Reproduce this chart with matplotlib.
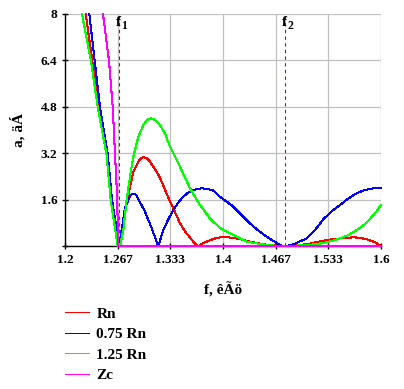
import matplotlib
matplotlib.use("Agg")
import matplotlib.pyplot as plt

# ---- data ----
red_f = [1.2262, 1.2346, 1.2427, 1.2532, 1.2589, 1.2680, 1.2738, 1.2780, 1.2823, 1.2865, 1.2928,
         1.2960, 1.2991, 1.3035, 1.3076, 1.3140, 1.3203, 1.3260, 1.3320, 1.3390, 1.3456, 1.3520,
         1.3582, 1.3640, 1.3687, 1.3760, 1.3835, 1.3920, 1.4000, 1.4100, 1.4215, 1.4342, 1.4470,
         1.4595, 1.4759, 1.4900, 1.5059, 1.5165, 1.5270, 1.5375, 1.5481, 1.5649, 1.5740, 1.5819,
         1.5924, 1.6000]
red_a = [8.0, 6.38, 4.79, 3.17, 1.59, 0.0, 0.78, 1.47, 2.04, 2.56, 2.91,
         3.02, 3.06, 3.03, 2.91, 2.65, 2.35, 1.98, 1.59, 1.18, 0.78, 0.50,
         0.29, 0.10, 0.0, 0.11, 0.20, 0.28, 0.31, 0.29, 0.24, 0.15, 0.08,
         0.03, 0.0, 0.02, 0.06, 0.12, 0.18, 0.23, 0.26, 0.30, 0.28, 0.23,
         0.13, 0.0]

blue_f = [1.2308, 1.2376, 1.2443, 1.2541, 1.2595, 1.2687, 1.2759, 1.2823, 1.2850, 1.2880, 1.2910,
          1.2940, 1.3003, 1.3089, 1.3181, 1.3244, 1.3308, 1.3371, 1.3434, 1.3497, 1.3560, 1.3624,
          1.3680, 1.3730, 1.3800, 1.3877, 1.3962, 1.4130, 1.4236, 1.4342, 1.4448, 1.4553, 1.4722,
          1.4766, 1.4848, 1.4911, 1.5059, 1.5165, 1.5270, 1.5376, 1.5481, 1.5587, 1.5692, 1.5797,
          1.5903, 1.6000]
blue_a = [8.0, 6.38, 4.79, 3.17, 1.59, 0.0, 1.31, 1.72, 1.79, 1.80, 1.72,
          1.55, 1.24, 0.67, 0.0, 0.55, 0.92, 1.24, 1.50, 1.70, 1.84, 1.93,
          1.97, 1.99, 1.97, 1.91, 1.70, 1.36, 1.07, 0.78, 0.53, 0.32, 0.03,
          0.0, 0.02, 0.08, 0.26, 0.55, 0.92, 1.20, 1.41, 1.64, 1.82, 1.93,
          1.99, 2.0]

green_f = [1.2215, 1.2329, 1.2414, 1.2525, 1.2578, 1.2667, 1.2700, 1.2738, 1.2780, 1.2823, 1.2865,
           1.2928, 1.2991, 1.3040, 1.3085, 1.3140, 1.3203, 1.3270, 1.3329, 1.3456, 1.3582, 1.3709,
           1.3835, 1.3962, 1.4089, 1.4215, 1.4300, 1.4468, 1.4620, 1.4760, 1.4900, 1.5100, 1.5266,
           1.5375, 1.5481, 1.5590, 1.5692, 1.5780, 1.5850, 1.5930, 1.6000]
green_a = [8.0, 6.38, 4.79, 3.17, 1.59, 0.0, 0.03, 0.55, 1.59, 2.39, 3.08,
           3.77, 4.17, 4.35, 4.40, 4.35, 4.17, 3.85, 3.42, 2.73, 1.99, 1.41,
           0.95, 0.62, 0.44, 0.27, 0.15, 0.07, 0.02, 0.0, 0.01, 0.04, 0.10,
           0.17, 0.26, 0.38, 0.55, 0.72, 0.90, 1.15, 1.41]

zc_f = [1.2481, 1.2557, 1.2604, 1.2633, 1.2654, 1.2677, 1.6000]
zc_a = [8.0, 6.38, 4.79, 3.17, 2.04, 0.0, 0.0]

f1 = 1.2687
f2 = 1.4789

x_ticks = [1.2, 1.267, 1.333, 1.4, 1.467, 1.533, 1.6]
x_tick_labels = ["1.2", "1.267", "1.333", "1.4", "1.467", "1.533", "1.6"]
y_ticks = [0, 1.6, 3.2, 4.8, 6.4, 8]
y_tick_labels = ["", "1.6", "3.2", "4.8", "6.4", "8"]

series = [
    ("Rn", red_f, red_a, "#ff0000"),
    ("0.75 Rn", blue_f, blue_a, "#0000ff"),
    ("1.25 Rn", green_f, green_a, "#00ff00"),
    ("Zc", zc_f, zc_a, "#ff00ff"),
]

plt.rcParams["font.family"] = ["Liberation Serif", "DejaVu Serif"]
plt.rcParams["font.weight"] = "bold"

W, H = 404, 389
fig = plt.figure(figsize=(W / 100, H / 100), dpi=100)
ax = fig.add_axes([65 / W, 1 - 246 / H, (381 - 65) / W, (246 - 14) / H])

ax.set_xlim(1.2, 1.6)
ax.set_ylim(0, 8)
ax.set_xticks(x_ticks)
ax.set_xticklabels(x_tick_labels)
ax.set_yticks(y_ticks)
ax.set_yticklabels(y_tick_labels)
ax.grid(True, color="#c0c0c0", linewidth=0.9, zorder=0)
ax.set_axisbelow(True)
for s in ["top", "right"]:
    ax.spines[s].set_visible(False)
for s in ["left", "bottom"]:
    ax.spines[s].set_linewidth(1.0)
    ax.spines[s].set_color("black")
ax.tick_params(axis="both", direction="inout", length=5, width=1.0, labelsize=9.5, pad=3)

for name, fx, ay, c in series:
    ax.plot(fx, ay, color=c, lw=0.75, label=name, clip_on=False, zorder=5, antialiased=False)

for fv in (f1, f2):
    ax.axvline(fv, color="#cc0000", lw=0.8, ls=(0, (3, 3)), zorder=4)

for fv, sub in ((f1, "1"), (f2, "2")):
    ax.annotate("f", xy=(fv, 8), xytext=(-0.5, -6.2), textcoords="offset points",
                ha="center", va="center", fontsize=11, fontweight="bold", zorder=6)
    ax.annotate(sub, xy=(fv, 8), xytext=(3.6, -8.5), textcoords="offset points",
                ha="center", va="center", fontsize=8.5, fontweight="bold", zorder=6)

ax.set_xlabel("f, êÃö", fontsize=11, fontweight="bold", labelpad=12)
ax.set_ylabel("a, äÁ", fontsize=11, fontweight="bold", labelpad=11)

fig.legend(loc="upper left", bbox_to_anchor=(65 / W, 1 - 307 / H), frameon=False,
           fontsize=11, handlelength=1.6, handletextpad=0.45, labelspacing=0.45,
           borderaxespad=0, borderpad=0)

fig.savefig("out.png", dpi=100)
